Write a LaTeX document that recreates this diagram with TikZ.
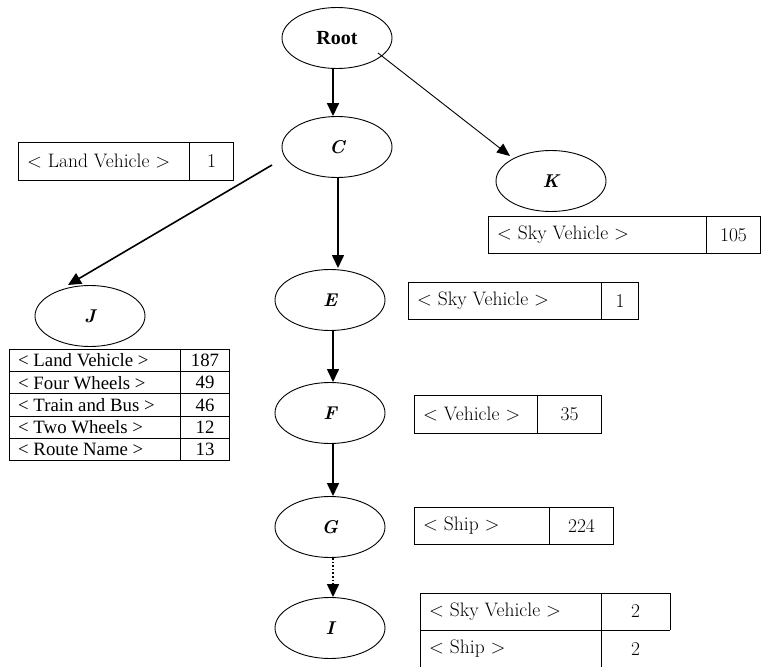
\documentclass[tikz,border=0pt]{standalone}
\usepackage{fontspec}
\usetikzlibrary{arrows.meta,shapes.geometric}
\newfontfamily\timesfont{Liberation Serif}
\tikzset{
  state/.style={draw, ellipse, line width=0.9pt, minimum width=110pt, minimum height=61pt, inner sep=0pt,
                font=\fontsize{18.5}{20}\selectfont\bfseries\itshape},
  link/.style={line width=1.6pt, -{Triangle[length=13pt,width=12pt]}},
  thinlink/.style={line width=0.9pt, -{Triangle[length=13pt,width=11pt]}},
  dotlink/.style={line width=1.6pt, dotted, -{Triangle[length=13pt,width=12pt]}},
  cell/.style={draw, rectangle, line width=1pt, inner sep=0pt, anchor=north west},
  ctext/.style={anchor=west, inner sep=0pt, font=\fontsize{19.5}{21}\selectfont},
  cnum/.style={inner sep=0pt, font=\fontsize{19.5}{21}\selectfont},
  jtext/.style={anchor=west, inner sep=0pt, font=\timesfont\fontsize{18.8}{20}\selectfont},
  jnum/.style={inner sep=0pt, font=\timesfont\fontsize{18.8}{20}\selectfont},
}
\begin{document}
\begin{tikzpicture}[x=1pt, y=-1pt]
\useasboundingbox (0,0) rectangle (761,667);

% tree nodes
\node[state, font=\timesfont\fontsize{20}{22}\selectfont\bfseries] (root) at (337,38) {Root};
\node[state] (c) at (337,147) {C};
\node[state] (k) at (551,181) {K};
\node[state] (j) at (90,316) {J};
\node[state] (e) at (330,300) {E};
\node[state] (f) at (330,413) {F};
\node[state] (g) at (330,527) {G};
\node[state] (i) at (330,628) {I};

% arrow end points
\coordinate (rk0) at (378,53);
\coordinate (rk1) at (510,156);
\coordinate (cj0) at (272,165);
\coordinate (cj1) at (68,285);
\draw[link] (root.south -| 333,0) -- (c.north -| 333,0);
\draw[thinlink] (rk0) -- (rk1);
\draw[link] (cj0) -- (cj1);
\draw[link] (c.south -| 338,0) -- (338,268);
\draw[link] (e.south -| 333,0) -- (333,382);
\draw[link] (f.south -| 333,0) -- (333,496);
\draw[dotlink] (g.south -| 333,0) -- (333,597);

% table beside C
\node[cell, minimum width=171pt, minimum height=38pt] (lva) at (18,142) {};
\node[cell, minimum width=44pt, minimum height=38pt] (lvb) at (189,142) {};
\node[ctext] (lvat) at ([xshift=9pt]lva.west) {< Land Vehicle >};
\node[cnum] (lvbt) at (lvb.center) {1};

% table under K
\node[cell, minimum width=218pt, minimum height=37pt] (ka) at (488,216) {};
\node[cell, minimum width=54pt, minimum height=37pt] (kb) at (706,216) {};
\node[ctext] (kat) at ([xshift=9pt]ka.west) {< Sky Vehicle >};
\node[cnum] (kbt) at (kb.center) {105};

% table beside E
\node[cell, minimum width=193pt, minimum height=37pt] (ea) at (408,282) {};
\node[cell, minimum width=37pt, minimum height=37pt] (eb) at (601,282) {};
\node[ctext] (eat) at ([xshift=9pt]ea.west) {< Sky Vehicle >};
\node[cnum] (ebt) at (eb.center) {1};

% table beside F
\node[cell, minimum width=123pt, minimum height=38pt] (fa) at (414,395) {};
\node[cell, minimum width=64pt, minimum height=38pt] (fb) at (537,395) {};
\node[ctext] (fat) at ([xshift=9pt]fa.west) {< Vehicle >};
\node[cnum] (fbt) at (fb.center) {35};

% table beside G
\node[cell, minimum width=135pt, minimum height=37pt] (ga) at (414,507) {};
\node[cell, minimum width=64pt, minimum height=37pt] (gb) at (549,507) {};
\node[ctext] (gat) at ([xshift=9pt]ga.west) {< Ship >};
\node[cnum] (gbt) at (gb.center) {224};

% table beside I (runs off the lower edge)
\draw[line width=1pt] (420,593) -- (670,593) (420,630) -- (670,630)
  (420,593) -- (420,668) (601,593) -- (601,668) (670,593) -- (670,630);
\node[ctext] (ia1) at (429,611.5) {< Sky Vehicle >};
\node[cnum] (ib1) at (635.5,611.5) {2};
\node[ctext] (ia2) at (429,649) {< Ship >};
\node[cnum] (ib2) at (635.5,649) {2};

% table under J
\foreach \y/\lab/\num [count=\n] in {349/{< Land Vehicle >}/187, 371.2/{< Four Wheels >}/49,
    393.4/{< Train and Bus >}/46, 415.6/{< Two Wheels >}/12, 437.8/{< Route Name >}/13}{
  \node[cell, minimum width=171pt, minimum height=22.2pt] (ja\n) at (9,\y) {};
  \node[cell, minimum width=49pt, minimum height=22.2pt] (jb\n) at (180,\y) {};
  \node[jtext] (jat\n) at ([xshift=9pt]ja\n.west) {\lab};
  \node[jnum] (jbt\n) at (jb\n.center) {\num};
}
\end{tikzpicture}
\end{document}
